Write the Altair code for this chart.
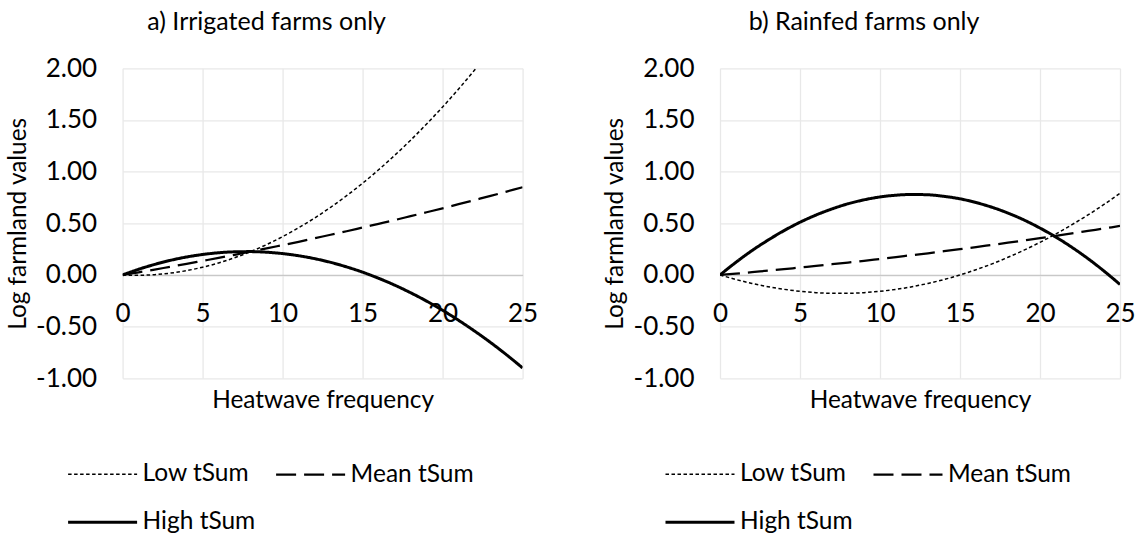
import altair as alt
import pandas as pd

FONT = "Lato"

x_vals = list(range(26))
series = ["Low tSum", "Mean tSum", "High tSum"]

irr_low = [0.0, -0.003, 0.003, 0.018, 0.042, 0.075, 0.116, 0.167, 0.226, 0.294, 0.371,
           0.457, 0.551, 0.655, 0.767, 0.888, 1.018, 1.157, 1.304, 1.461, 1.626,
           1.800, 1.983, 2.175, 2.376, 2.585]
irr_mean = [0.0, 0.026, 0.052, 0.080, 0.107, 0.136, 0.165, 0.195, 0.226, 0.257, 0.289,
            0.321, 0.355, 0.389, 0.423, 0.459, 0.495, 0.531, 0.569, 0.607, 0.645,
            0.685, 0.725, 0.765, 0.807, 0.849]
irr_high = [0.0, 0.055, 0.102, 0.142, 0.174, 0.198, 0.215, 0.224, 0.226, 0.220, 0.207,
            0.186, 0.158, 0.122, 0.078, 0.027, -0.032, -0.098, -0.172, -0.253, -0.342,
            -0.439, -0.543, -0.654, -0.773, -0.900]

rain_low = [0.0, -0.044, -0.082, -0.114, -0.139, -0.158, -0.171, -0.177, -0.177, -0.171, -0.158,
            -0.139, -0.114, -0.082, -0.044, 0.000, 0.051, 0.107, 0.171, 0.240, 0.316,
            0.398, 0.487, 0.581, 0.683, 0.790]
rain_mean = [0.0, 0.013, 0.027, 0.042, 0.056, 0.072, 0.087, 0.104, 0.120, 0.137, 0.155,
             0.173, 0.192, 0.210, 0.230, 0.250, 0.270, 0.291, 0.312, 0.334, 0.356,
             0.379, 0.402, 0.426, 0.450, 0.474]
rain_high = [0.0, 0.123, 0.236, 0.337, 0.429, 0.510, 0.580, 0.639, 0.689, 0.727, 0.755,
             0.772, 0.779, 0.776, 0.761, 0.737, 0.701, 0.655, 0.599, 0.532, 0.454,
             0.366, 0.267, 0.158, 0.038, -0.092]

x_ticks = [0, 5, 10, 15, 20, 25]
y_ticks = [-1.0, -0.5, 0.0, 0.5, 1.0, 1.5, 2.0]

titles = ["a) Irrigated farms only", "b) Rainfed farms only"]
x_title = "Heatwave frequency"
y_title = "Log farmland values"

PLOT_W = 400
PLOT_H = 310


def panel(title, low, mean, high):
    df = pd.DataFrame({
        "x": x_vals * 3,
        "y": low + mean + high,
        "s": [series[0]] * 26 + [series[1]] * 26 + [series[2]] * 26,
    })
    legend = alt.Legend(
        title=None, orient="none", legendX=-56, legendY=370, columns=2,
        direction="horizontal",
        symbolType="stroke", symbolSize=4761, symbolStrokeColor="black",
        labelFont=FONT, labelFontSize=24.5, labelColor="black", labelOffset=4,
        columnPadding=16, rowPadding=-20, labelLimit=300,
    )
    return alt.Chart(df).mark_line(clip=True, interpolate="monotone", color="black").encode(
        x=alt.X("x:Q", title=x_title,
                scale=alt.Scale(domain=[0, 25], nice=False, zero=False),
                axis=alt.Axis(values=x_ticks, offset=-103.33, orient="bottom",
                              ticks=False, tickSize=0, labelPadding=26, labelFlush=False,
                              labelFont=FONT, labelFontSize=26, labelColor="black",
                              domain=True, domainColor="#c8c8c8", domainWidth=1.3,
                              grid=True, gridColor="#e8e8e8", gridWidth=1.3,
                              titleFont=FONT, titleFontSize=24.4, titleFontWeight="normal",
                              titleColor="black", titlePadding=62)),
        y=alt.Y("y:Q", title=y_title,
                scale=alt.Scale(domain=[-1, 2], nice=False, zero=False),
                axis=alt.Axis(values=y_ticks, ticks=False, tickSize=0, domain=False,
                              labelPadding=26, labelFlush=False, labelFont=FONT, labelFontSize=26,
                              labelColor="black",
                              labelExpr="datum.value < 0 ? '-' + format(-datum.value, '.2f') : format(datum.value, '.2f')",
                              grid=True, gridColor="#e8e8e8", gridWidth=1.3,
                              titleFont=FONT, titleFontSize=24.4, titleFontWeight="normal",
                              titleColor="black", titlePadding=5)),
        strokeDash=alt.StrokeDash("s:N", scale=alt.Scale(domain=series, range=[[3.5, 2.5], [20, 8], [1, 0]]),
                                  legend=legend),
        strokeWidth=alt.StrokeWidth("s:N", scale=alt.Scale(domain=series, range=[1.5, 3.0, 4.2]),
                                    legend=legend),
        detail="s:N",
    ).properties(
        width=PLOT_W, height=PLOT_H,
        title=alt.TitleParams(title, font=FONT, fontSize=25, fontWeight="normal", color="black",
                              anchor="middle", frame="group", dx=-56, offset=20),
    )


left = panel(titles[0], irr_low, irr_mean, irr_high)
right = panel(titles[1], rain_low, rain_mean, rain_high)

chart = alt.hconcat(left, right, spacing=197.4, bounds="flush").resolve_scale(
    x="independent", y="independent", strokeDash="independent", strokeWidth="independent"
).resolve_legend(
    strokeDash="independent", strokeWidth="independent"
).properties(
    padding={"left": 4.6, "top": 10.3, "right": 0, "bottom": 0},
    background="white",
).configure_view(stroke=None)

chart.save("out.html", embed_options={"renderer": "svg", "actions": False})
